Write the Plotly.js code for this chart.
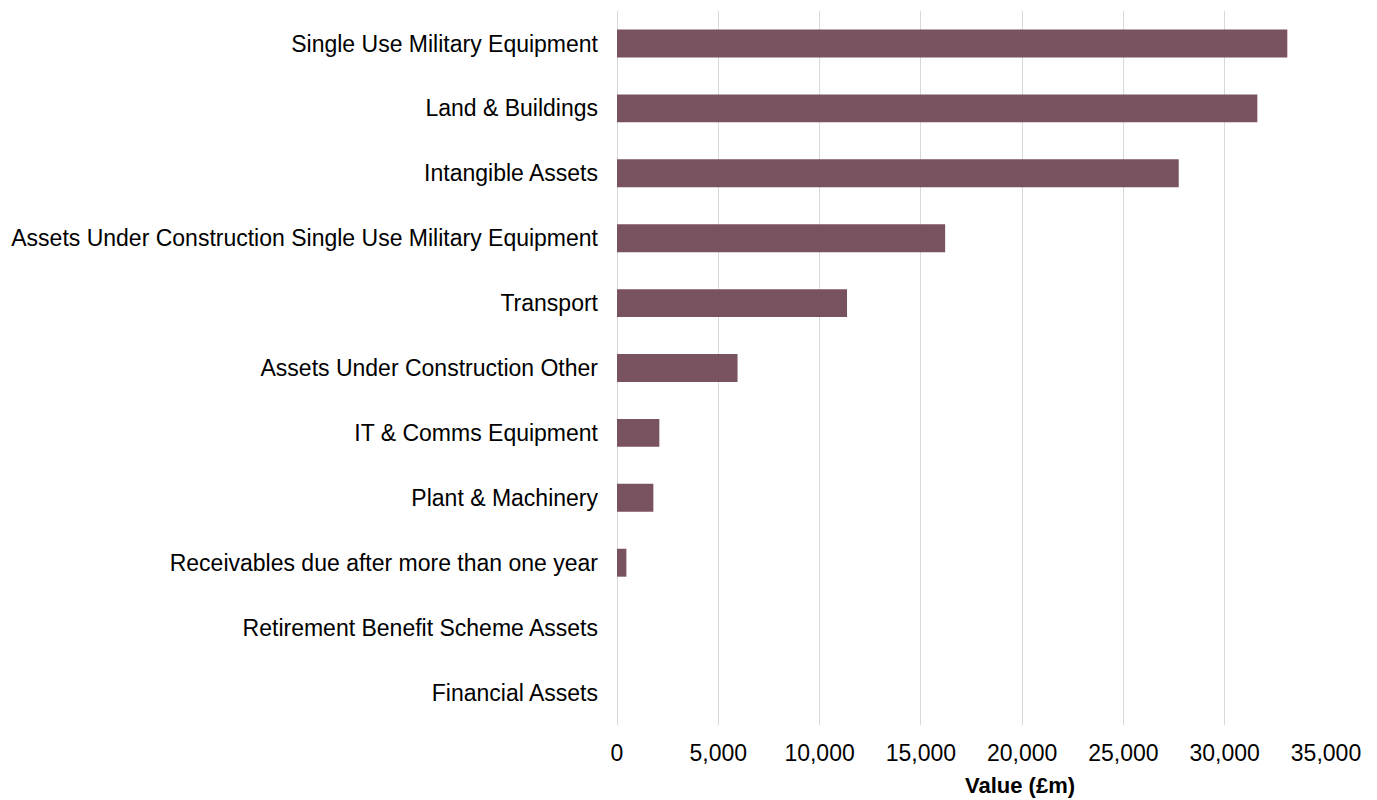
<!DOCTYPE html>
<html>
<head>
<meta charset="utf-8">
<script src="https://cdn.plot.ly/plotly-3.0.1.min.js"></script>
<style>html,body{margin:0;padding:0;background:#fff;}#chart{width:1377px;height:800px;}</style>
</head>
<body>
<div id="chart"></div>
<script>
const categories = [
  "Single Use Military Equipment",
  "Land & Buildings",
  "Intangible Assets",
  "Assets Under Construction Single Use Military Equipment",
  "Transport",
  "Assets Under Construction Other",
  "IT & Comms Equipment",
  "Plant & Machinery",
  "Receivables due after more than one year",
  "Retirement Benefit Scheme Assets",
  "Financial Assets"
];
const values = [33090, 31610, 27730, 16200, 11355, 5950, 2090, 1795, 463, 0, 0];
const xTickVals = [0, 5000, 10000, 15000, 20000, 25000, 30000, 35000];
const xTickText = ["0", "5,000", "10,000", "15,000", "20,000", "25,000", "30,000", "35,000"];

const trace = {
  type: 'bar',
  orientation: 'h',
  y: categories,
  x: values,
  marker: {color: '#79525f', line: {width: 0}},
  hoverinfo: 'x+y'
};
const layout = {
  width: 1377, height: 800,
  margin: {l: 617, r: 51, t: 11, b: 75},
  paper_bgcolor: '#fff', plot_bgcolor: '#fff',
  font: {family: 'Liberation Sans, Arial, sans-serif', size: 23, color: '#000'},
  bargap: 0.57,
  showlegend: false,
  xaxis: {
    range: [0, 35000],
    tickvals: xTickVals, ticktext: xTickText,
    showgrid: true, gridcolor: '#d9d9d9', gridwidth: 1,
    zeroline: true, zerolinecolor: '#d9d9d9', zerolinewidth: 1,
    showline: false, ticks: '', ticklabelstandoff: 12,
    tickfont: {size: 23}
  },
  yaxis: {
    autorange: 'reversed',
    showgrid: false, zeroline: false, showline: false, ticks: '',
    ticklabelstandoff: 18,
    tickfont: {size: 23}
  },
  annotations: [{
    text: '<b>Value (£m)</b>', xref: 'paper', yref: 'paper',
    x: 0.568, y: 0, yshift: -75, xanchor: 'center', yanchor: 'bottom',
    showarrow: false, font: {size: 22}
  }]
};
Plotly.newPlot('chart', [trace], layout, {displayModeBar: false, staticPlot: true});
</script>
</body>
</html>
